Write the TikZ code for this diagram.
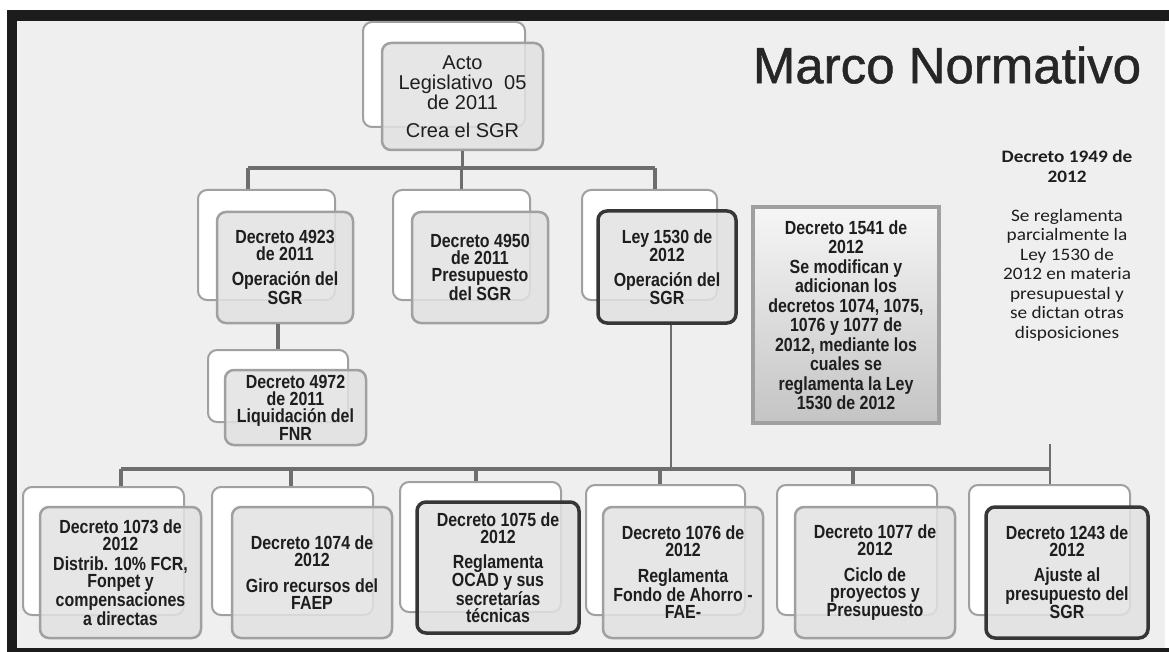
\documentclass[tikz,border=0pt]{standalone}
\usepackage{fontspec}
\setmainfont{Liberation Sans}
\newfontfamily\boxfont[FakeStretch=0.84]{Liberation Sans}
\newfontfamily\titlefont[FakeBold=1.0]{Liberation Sans}
\newfontfamily\calfont[FakeStretch=1.1]{Carlito}
\usetikzlibrary{shadows}
\definecolor{bgc}{HTML}{EFEFEF}
\definecolor{framec}{HTML}{1C1C1C}
\definecolor{bordc}{HTML}{A0A0A0}
\definecolor{frontc}{HTML}{E2E2E2}
\definecolor{darkc}{HTML}{363636}
\definecolor{connc}{HTML}{6E6E6E}
\definecolor{txtc}{HTML}{1E1E1E}
\definecolor{topc}{HTML}{F6F6F6}
\definecolor{botc}{HTML}{C4C4C4}
\tikzset{
  backbox/.style={draw=bordc, line width=2pt, fill=white, rounded corners=9pt, inner sep=0pt},
  frontbox/.style={draw=bordc, line width=2.5pt, fill=frontc, fill opacity=0.85, text opacity=1,
    rounded corners=9pt, inner sep=0pt, align=center, text=txtc,
    font={\boxfont\bfseries\fontsize{19}{17}\selectfont}},
  darkbox/.style={frontbox, draw=darkc, line width=3.5pt},
  conn/.style={draw=connc, line width=3.5pt},
  connthin/.style={draw=connc, line width=2.6pt},
  sqbox/.style={draw=bordc, line width=4pt, top color=topc, bottom color=botc, inner sep=0pt,
    align=center, text=txtc, font={\boxfont\bfseries\fontsize{19}{19.5}\selectfont},
    drop shadow={shadow xshift=1.5pt, shadow yshift=-2pt, opacity=0.35}},
  plaintext/.style={align=center, text=txtc, inner sep=0pt}
}
\begin{document}
\begin{tikzpicture}[x=1pt,y=-1pt]
\useasboundingbox (0,0) rectangle (1169,652);
\fill[white] (0,0) rectangle (1169,652);
\fill[bgc] (17,21) rectangle (1165,648);
\fill[framec] (7,10) rectangle (1169,21);
\fill[framec] (7,10) rectangle (17,652);
\fill[framec] (7,648) rectangle (1169,652);

% title
\node[plaintext, text=black!85, font={\titlefont\fontsize{51}{51}\selectfont}] (title) at (947,65) {Marco Normativo};

% connector coordinates
\coordinate (tL) at (248,168);
\coordinate (tR) at (655,168);
\coordinate (mA) at (278,330);
\coordinate (hL) at (121,469);
\coordinate (hR) at (1050,469);
\coordinate (hT) at (1050,444);
\coordinate (lj) at (671,469);
\coordinate (d2) at (291,469);
\coordinate (d3) at (476,469);
\coordinate (d4) at (660,469);
\coordinate (d5) at (853,469);

% back boxes
\node[backbox, minimum width=162pt, minimum height=105pt] (bacto) at (444,74.5) {};
\node[backbox, minimum width=137pt, minimum height=110pt] (b4923) at (266.5,245) {};
\node[backbox, minimum width=137pt, minimum height=110pt] (b4950) at (461.5,245) {};
\node[backbox, minimum width=135pt, minimum height=110pt] (bley) at (649.5,245) {};
\node[backbox, minimum width=140pt, minimum height=72pt] (b4972) at (278,386) {};
\node[backbox, minimum width=161pt, minimum height=128pt] (b1073) at (103.5,551) {};
\node[backbox, minimum width=161pt, minimum height=128pt] (b1074) at (292.5,551) {};
\node[backbox, minimum width=161pt, minimum height=130pt] (b1075) at (480.5,547) {};
\node[backbox, minimum width=159pt, minimum height=130pt] (b1076) at (665.5,550) {};
\node[backbox, minimum width=160pt, minimum height=130pt] (b1077) at (857,550) {};
\node[backbox, minimum width=161pt, minimum height=130pt] (b1243) at (1049.5,550) {};

% front boxes
\node[frontbox, minimum width=161pt, minimum height=107pt,
  font={\fontsize{20}{20}\selectfont}] (acto) at (462.5,96.5)
  {Acto\\Legislativo\ \ 05\\de 2011\\[8pt]Crea el SGR};
\node[frontbox, minimum width=136pt, minimum height=111pt] (f4923) at (285,267.5)
  {Decreto 4923\\de 2011\\[8pt]Operación del\\SGR};
\node[frontbox, minimum width=136pt, minimum height=111pt] (f4950) at (480,267.5)
  {Decreto 4950\\de 2011\\Presupuesto\\del SGR};
\node[darkbox, minimum width=138pt, minimum height=112pt] (fley) at (667,267)
  {Ley 1530 de\\2012\\[8pt]Operación del\\SGR};
\node[frontbox, minimum width=141pt, minimum height=75pt] (f4972) at (295.5,407.5)
  {Decreto 4972\\de 2011\\Liquidación del\\FNR};
\node[sqbox, minimum width=186pt, minimum height=216pt] (f1541) at (846,315)
  {Decreto 1541 de\\2012\\Se modifican y\\adicionan los\\decretos 1074, 1075,\\1076 y 1077 de\\2012, mediante los\\cuales se\\reglamenta la Ley\\1530 de 2012};

\node[frontbox, minimum width=161pt, minimum height=131pt] (f1073) at (120.5,572.5)
  {Decreto 1073 de\\2012\\[3pt]Distrib. 10\% FCR,\\Fonpet y\\compensaciones\\a directas};
\node[frontbox, minimum width=160pt, minimum height=131pt] (f1074) at (312,572.5)
  {Decreto 1074 de\\2012\\[9pt]Giro recursos del\\FAEP};
\node[darkbox, minimum width=162pt, minimum height=131pt] (f1075) at (498,567.5)
  {Decreto 1075 de\\2012\\[8pt]Reglamenta\\OCAD y sus\\secretarías\\técnicas};
\node[frontbox, minimum width=160pt, minimum height=131pt] (f1076) at (683,572.5)
  {Decreto 1076 de\\2012\\[9pt]Reglamenta\\Fondo de Ahorro -\\FAE-};
\node[frontbox, minimum width=160pt, minimum height=131pt] (f1077) at (875,572.5)
  {Decreto 1077 de\\2012\\[9pt]Ciclo de\\proyectos y\\Presupuesto};
\node[darkbox, minimum width=162pt, minimum height=131pt] (f1243) at (1067,572.5)
  {Decreto 1243 de\\2012\\[8pt]Ajuste al\\presupuesto del\\SGR};

% side text
\node[plaintext, font={\calfont\fontsize{17.5}{19.5}\selectfont}] (d1949) at (1067,246)
  {\textbf{Decreto 1949 de}\\\textbf{2012}\\[19.5pt]Se reglamenta\\parcialmente la\\Ley 1530 de\\2012 en materia\\presupuestal y\\se dictan otras\\disposiciones};

% connectors
\draw[conn] (acto.south) -- (acto.south |- tL);
\draw[conn] (tL) -- (tR);
\draw[conn] (tL) -- (tL |- b4923.north);
\draw[conn] (b4950.north |- tL) -- (b4950.north);
\draw[conn] (tR) -- (tR |- bley.north);
\draw[conn] (f4923.south -| mA) -- (mA |- b4972.north);
\draw[connthin] (fley.south -| lj) -- (lj);
\draw[conn] (hL) -- (hR);
\draw[conn] (hL) -- (hL |- b1073.north);
\draw[conn] (d2) -- (d2 |- b1074.north);
\draw[conn] (d3) -- (d3 |- b1075.north);
\draw[conn] (d4) -- (d4 |- b1076.north);
\draw[conn] (d5) -- (d5 |- b1077.north);
\draw[connthin] (hT) -- (hT |- b1243.north);
\end{tikzpicture}
\end{document}
